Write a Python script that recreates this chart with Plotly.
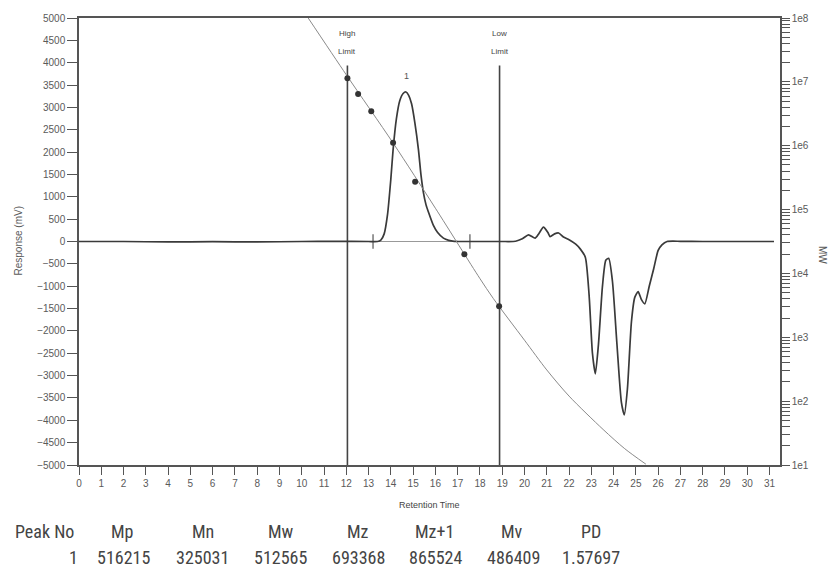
import plotly.graph_objects as go

# ---------------- data ----------------
# chromatogram (Retention Time, Response mV)
rt = [0, 2, 4, 6, 8, 10, 11.5, 13.0, 13.4, 13.55, 13.7, 13.85, 14.0, 14.1, 14.25, 14.4, 14.55,
      14.68, 14.8, 14.93, 15.08, 15.24, 15.35, 15.46, 15.58, 15.69, 15.91, 16.1, 16.36, 16.6,
      16.85, 17.2, 18, 19, 19.6, 19.9, 20.18, 20.48, 20.65, 20.85, 21.05, 21.15, 21.35, 21.53,
      21.75, 22.0, 22.3, 22.5, 22.73, 22.9, 23.05, 23.18, 23.32, 23.5, 23.65, 23.78, 23.95,
      24.15, 24.35, 24.48, 24.62, 24.8, 24.95, 25.1, 25.25, 25.4, 25.6, 25.8, 26.0, 26.17,
      26.4, 27, 28, 29, 30, 31.2]
response = [0, 0, -10, -5, -10, 0, 5, 0, 0, 30, 170, 600, 1400, 2050, 2750, 3150, 3310,
            3345, 3270, 3080, 2650, 2050, 1500, 1100, 820, 655, 360, 200, 75, 25,
            5, 0, 0, 0, 5, 60, 150, 75, 180, 320, 200, 110, 170, 190,
            100, 40, -60, -165, -350, -1200, -2500, -2960, -2300, -1000, -420, -375, -900,
            -2300, -3600, -3880, -3300, -1800, -1250, -1120, -1300, -1395, -1000, -610, -200, -75,
            0, 5, 0, 0, 0, 0]

# calibration curve (Retention Time, MW)
cal_rt = [10.29, 12.0, 14.11, 16.0, 17.99, 18.6, 20.0, 21.0, 22.0, 23.53, 24.5, 25.45]
cal_mw = [1.0e8, 1.29e7, 1.09e6, 1.05e5, 8.4e3, 4.05e3, 900, 308, 120, 36, 18, 10.3]

# calibration standards (dots)
std_rt = [12.05, 12.53, 13.12, 14.10, 15.09, 17.30, 18.86]
std_mw = [1.14e7, 6.45e6, 3.46e6, 1.11e6, 2.73e5, 2.0e4, 3.06e3]

# integration limits
limit_rt = [12.05, 18.88]
limit_names = ["High", "Low"]
peak_start, peak_end = 13.2, 17.55
peak_apex_rt = 14.68
peak_label = "1"

# axis ticks
x_ticks = list(range(0, 32))
y_ticks = list(range(-5000, 5001, 500))
mw_decades = [1, 2, 3, 4, 5, 6, 7, 8]

# results table
table_headers = ["Peak No", "Mp", "Mn", "Mw", "Mz", "Mz+1", "Mv", "PD"]
table_values = ["1", "516215", "325031", "512565", "693368", "865524", "486409", "1.57697"]

# ---------------- figure ----------------
L, R, T, B = 79, 52, 18, 102
W, H = 832, 567
PW, PH = W - L - R, H - T - B

def px_x(px):
    return (px - L) / PW

def px_y(py):
    return (H - B - py) / PH

AX = "#555555"
TXT = "#5a5a5a"
tickfont = dict(family="Liberation Sans, Arial, sans-serif", size=10, color=TXT)

fig = go.Figure()

# limit lines
lx, ly = [], []
for x in limit_rt:
    lx += [x, x, None]
    ly += [-5000, 3940, None]
fig.add_trace(go.Scatter(x=lx, y=ly, mode="lines", line=dict(color="#444444", width=1.6),
                         hoverinfo="skip"))

# peak baseline + end ticks
fig.add_trace(go.Scatter(x=[peak_start, peak_end], y=[0, 0], mode="lines",
                         line=dict(color="#999999", width=1), hoverinfo="skip"))
fig.add_trace(go.Scatter(x=[peak_start, peak_start, None, peak_end, peak_end],
                         y=[-160, 160, None, -160, 160], mode="lines",
                         line=dict(color="#555555", width=1.2), hoverinfo="skip"))

# chromatogram
fig.add_trace(go.Scatter(x=rt, y=response, mode="lines",
                         line=dict(color="#3a3a3a", width=1.7, shape="spline", smoothing=0.6)))

# calibration curve
fig.add_trace(go.Scatter(x=cal_rt, y=cal_mw, mode="lines", yaxis="y2",
                         line=dict(color="#8a8a8a", width=1, shape="spline", smoothing=0.8)))
fig.add_trace(go.Scatter(x=std_rt, y=std_mw, mode="markers", yaxis="y2",
                         marker=dict(color="#333333", size=6)))

# log ticks for MW axis
mw_tickvals, mw_ticktext = [], []
for d in mw_decades:
    mw_tickvals.append(10 ** d)
    mw_ticktext.append("1e%d" % d)
    if d < mw_decades[-1]:
        for m in range(2, 10):
            mw_tickvals.append(m * 10 ** d)
            mw_ticktext.append("")

fig.update_layout(
    width=W, height=H,
    margin=dict(l=L, r=R, t=T, b=B, pad=0),
    paper_bgcolor="white", plot_bgcolor="white",
    showlegend=False,
    xaxis=dict(range=[0, 31.47], tickvals=x_ticks, ticks="outside", ticklen=8, tickwidth=1,
               tickcolor=AX, showline=True, linecolor=AX, linewidth=1.5, mirror=True,
               showgrid=False, zeroline=False, tickfont=tickfont),
    yaxis=dict(range=[-5000, 5000], tickvals=y_ticks, ticks="outside", ticklen=10, tickwidth=1,
               tickcolor=AX, showline=True, linecolor=AX, linewidth=1.5,
               showgrid=False, zeroline=False, tickfont=tickfont),
    yaxis2=dict(type="log", range=[1, 8], overlaying="y", side="right",
                tickvals=mw_tickvals, ticktext=mw_ticktext, ticks="outside", ticklen=8,
                tickwidth=1, tickcolor=AX, showline=True, linecolor=AX, linewidth=1.5,
                showgrid=False, zeroline=False, tickfont=tickfont),
)

ann = []
smallfont = dict(family="Liberation Sans, Arial, sans-serif", size=8, color="#444444")
for x, name in zip(limit_rt, limit_names):
    ann.append(dict(x=x, y=px_y(34), xref="x", yref="paper", text=name, showarrow=False,
                    font=smallfont, xanchor="center", yanchor="middle"))
    ann.append(dict(x=x, y=px_y(51), xref="x", yref="paper", text="Limit", showarrow=False,
                    font=smallfont, xanchor="center", yanchor="middle"))
ann.append(dict(x=peak_apex_rt, y=px_y(76), xref="x", yref="paper", text=peak_label,
                showarrow=False, font=dict(family="Liberation Sans, Arial", size=9, color="#555"),
                xanchor="center", yanchor="middle"))
ann.append(dict(x=px_x(18), y=0.5, xref="paper", yref="paper", text="Response (mV)",
                textangle=-90, showarrow=False, font=tickfont, xanchor="center", yanchor="middle"))
ann.append(dict(x=px_x(823), y=px_y(255), xref="paper", yref="paper", text="MW",
                textangle=90, showarrow=False, font=tickfont, xanchor="center", yanchor="middle"))
ann.append(dict(x=px_x(429), y=px_y(505), xref="paper", yref="paper", text="Retention Time",
                showarrow=False, font=dict(family="Liberation Sans, Arial", size=9, color="#444"),
                xanchor="center", yanchor="middle"))

tablefont = dict(family="Roboto Condensed, DejaVu Sans Condensed, Liberation Sans, Arial, sans-serif",
                 size=18, color="#444444")
header_px = [44, 122, 203, 281, 358, 434, 512, 591]
value_px = [73, 123, 202, 280, 358, 435, 513, 591]
for h, px in zip(table_headers, header_px):
    ann.append(dict(x=px_x(px), y=px_y(531), xref="paper", yref="paper", text=h,
                    showarrow=False, font=tablefont, xanchor="center", yanchor="middle"))
for v, px in zip(table_values, value_px):
    ann.append(dict(x=px_x(px), y=px_y(557), xref="paper", yref="paper", text=v,
                    showarrow=False, font=tablefont, xanchor="center", yanchor="middle"))

fig.update_layout(annotations=ann)
fig.write_html("out.html", config={"displayModeBar": False},
               post_script="document.body.style.margin='0px';document.body.style.padding='0px';")
